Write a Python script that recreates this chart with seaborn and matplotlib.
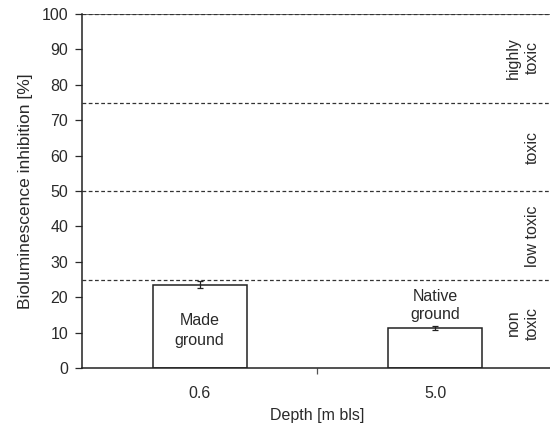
import matplotlib
matplotlib.use("Agg")
import matplotlib.pyplot as plt
import seaborn as sns
import pandas as pd

depths = ["0.6", "5.0"]
inhibition = [23.6, 11.3]
errors = [1.0, 0.5]
bar_labels = ["Made\nground", "Native\nground"]
thresholds = [25, 50, 75, 100]
zone_labels = ["non\ntoxic", "low toxic", "toxic", "highly\ntoxic"]
zone_centers = [12.7, 37.3, 62.4, 87.6]

sns.set_theme(style="white")
plt.rcParams['font.family'] = ['Liberation Sans', 'DejaVu Sans']

df = pd.DataFrame({"depth": depths, "inh": inhibition})

fig = plt.figure(figsize=(5.5, 4.25), dpi=100)
ax = fig.add_axes([0.149, 0.134, 0.856, 0.833])

sns.barplot(data=df, x="depth", y="inh", ax=ax, color="white",
            edgecolor="#222222", linewidth=1.1, width=0.4, errorbar=None)
ax.errorbar(x=range(len(depths)), y=inhibition, yerr=errors, fmt="none",
            ecolor="#222222", elinewidth=0.9, capsize=2.5, capthick=0.9)

for t in thresholds:
    ax.axhline(t, color="#333333", linestyle=(0, (3, 2)), linewidth=0.9)
ax.axhline(thresholds[-1], color="#555555", linestyle="-", linewidth=1.2, zorder=1)

txtc = "#2a2a2a"
ax.text(0, 10.6, bar_labels[0], ha="center", va="center", fontsize=11.5,
        color=txtc, linespacing=1.35)
ax.text(1, inhibition[1] + 1.6, bar_labels[1], ha="center", va="bottom", fontsize=11.5,
        color=txtc, linespacing=1.3)

for lab, c in zip(zone_labels, zone_centers):
    ax.text(1.445, c, lab, rotation=90, ha="right", va="center", fontsize=11.5,
            color=txtc, linespacing=1.35, multialignment="center")

ax.set_xlim(-0.5, 1.5)
ax.set_ylim(0, 100)
ax.set_yticks(range(0, 101, 10))
ax.set_xlabel("Depth [m bls]", fontsize=11.5, color=txtc)
ax.set_ylabel("Bioluminescence inhibition [%]", fontsize=12.5, color=txtc)
ax.tick_params(axis="y", labelsize=11.5, colors=txtc, length=5, width=0.9,
               direction="out", left=True, pad=5)
ax.tick_params(axis="x", labelsize=11.5, colors=txtc, length=0, pad=13)
ax.set_xticks([0.5], minor=True)
ax.tick_params(axis="x", which="minor", length=4, width=0.9, bottom=True, direction="out",
               color="#555555")

for s in ["top", "right"]:
    ax.spines[s].set_visible(False)
for s in ["left", "bottom"]:
    ax.spines[s].set_color("#222222")
    ax.spines[s].set_linewidth(1.1)

ax.xaxis.set_label_coords(0.5, -0.113)
ax.yaxis.set_label_coords(-0.104, 0.5)

fig.savefig("out.png", dpi=100)
